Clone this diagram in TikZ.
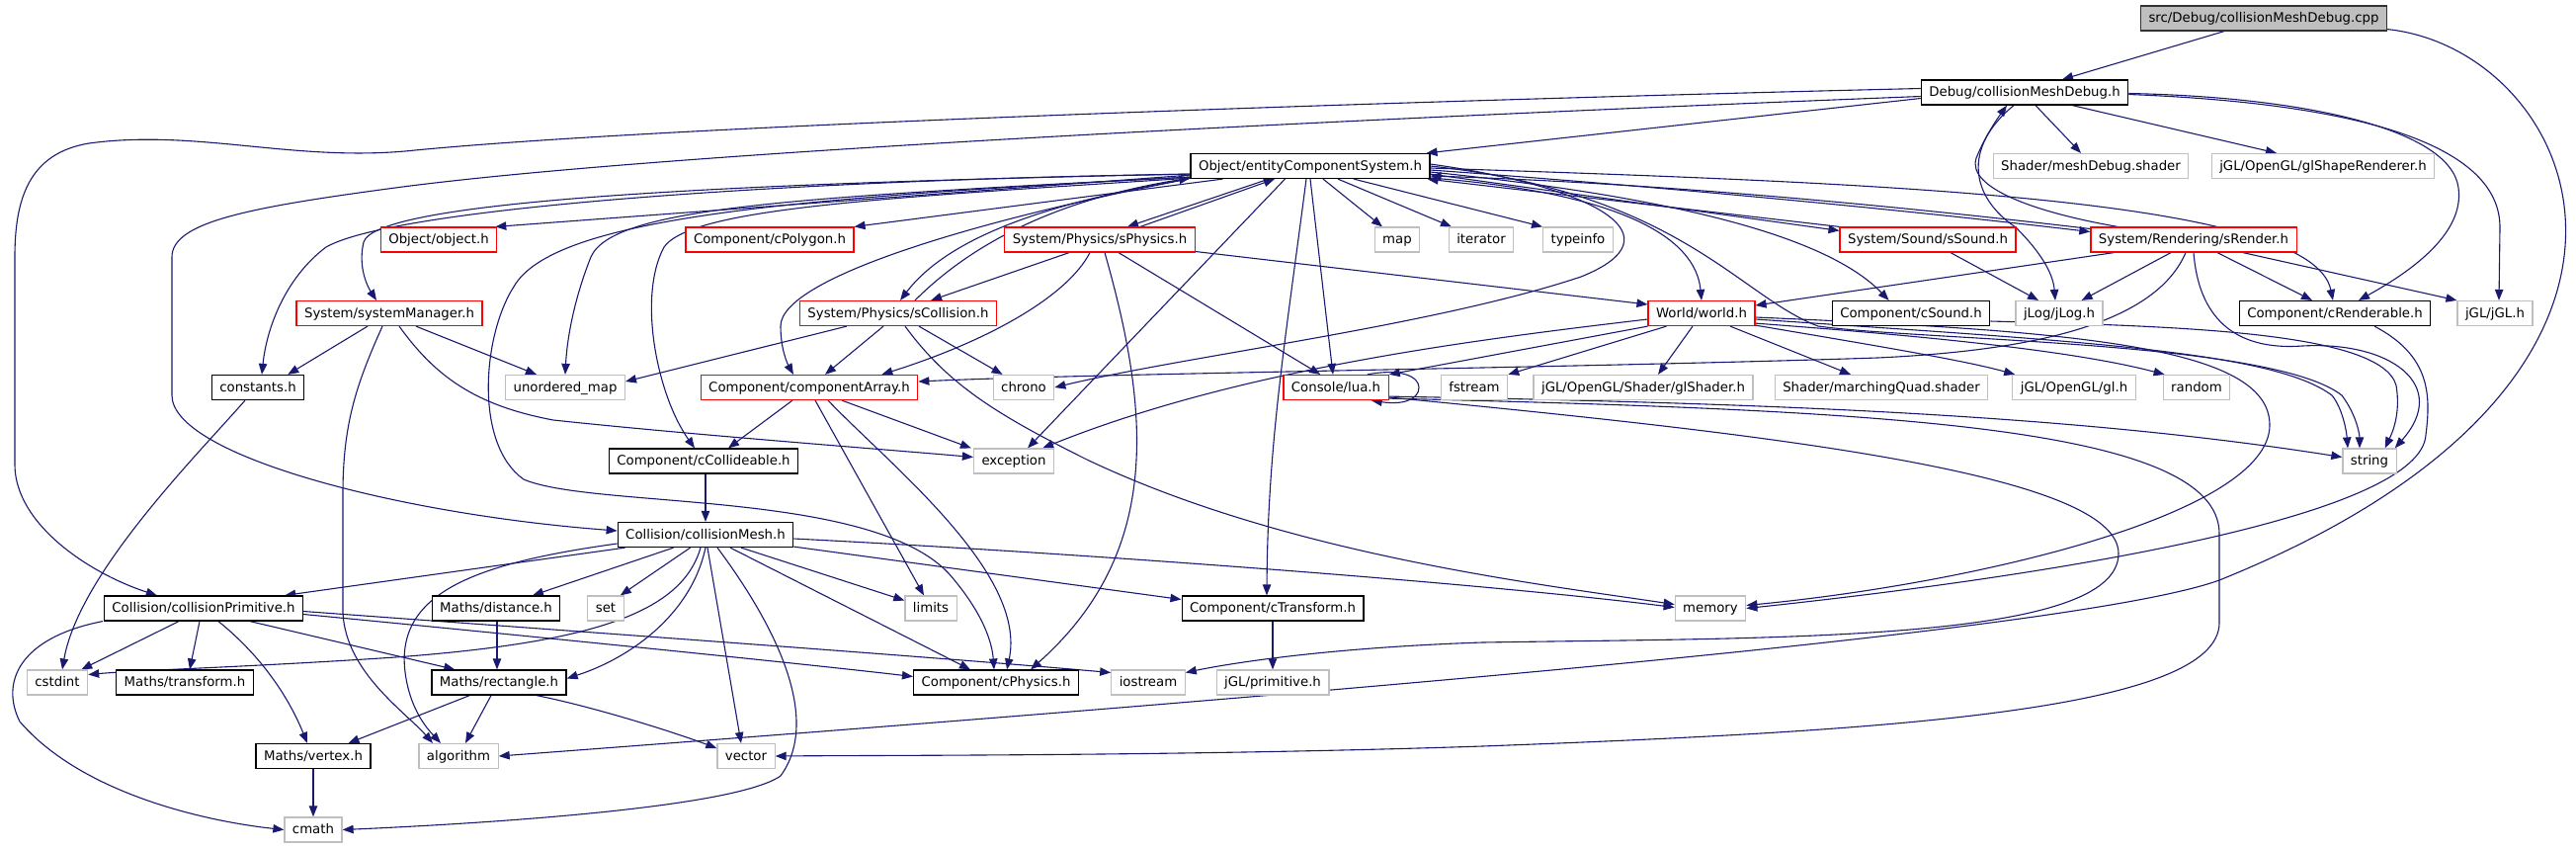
\documentclass[tikz,border=0pt]{standalone}
\usepackage{fontspec}
\setmainfont{DejaVu Sans}
\usetikzlibrary{arrows.meta, calc, backgrounds}
\definecolor{edgeblue}{HTML}{191970}
\definecolor{sysgrey}{HTML}{BFBFBF}

\begin{document}
\begin{tikzpicture}[x=0.5pt, y=-0.5pt, >={Triangle[length=5.5pt, width=4.2pt]},
  every node/.style={font=\fontsize{6.65pt}{8pt}\selectfont},
  hdr/.style={rectangle, draw, line width=0.6pt, fill=white, minimum height=12.5pt, inner xsep=4pt, inner ysep=0pt, text height=5.5pt, text depth=1.5pt},
  dochdr/.style={hdr, draw=black},
  syshdr/.style={hdr, draw=sysgrey},
  cuthdr/.style={hdr, draw=red},
  roothdr/.style={hdr, draw=black!80, fill=sysgrey},
  incl/.style={->, draw=edgeblue, line width=0.55pt}]
  \useasboundingbox (0,0) rectangle (2607,859);

  \node[roothdr] (cpp) at (2291,18.5) {src/Debug/collisionMeshDebug.cpp};
  \node[dochdr] (dbg) at (2049,93.5) {Debug/collisionMeshDebug.h};
  \node[dochdr] (ecs) at (1326,168) {Object/entityComponentSystem.h};
  \node[syshdr] (meshshader) at (2116,168) {Shader/meshDebug.shader};
  \node[syshdr] (shaperend) at (2351,168) {jGL/OpenGL/glShapeRenderer.h};
  \node[cuthdr] (object) at (444,242.5) {Object/object.h};
  \node[cuthdr] (cpolygon) at (779,242.5) {Component/cPolygon.h};
  \node[cuthdr] (sphysics) at (1113,242.5) {System/Physics/sPhysics.h};
  \node[syshdr] (map) at (1414,242.5) {map};
  \node[syshdr] (iterator) at (1499,242.5) {iterator};
  \node[syshdr] (typeinfo) at (1597,242.5) {typeinfo};
  \node[cuthdr] (ssound) at (1951,242.5) {System/Sound/sSound.h};
  \node[cuthdr] (srender) at (2220,242.5) {System/Rendering/sRender.h};
  \node[cuthdr] (sysmgr) at (394,317) {System/systemManager.h};
  \node[cuthdr] (scollision) at (909,317) {System/Physics/sCollision.h};
  \node[cuthdr] (world) at (1722,317) {World/world.h};
  \node[dochdr] (csound) at (1934,317) {Component/cSound.h};
  \node[syshdr] (jlog) at (2084,317) {jLog/jLog.h};
  \node[dochdr] (crender) at (2363,317) {Component/cRenderable.h};
  \node[syshdr] (jgl) at (2525,317) {jGL/jGL.h};
  \node[dochdr] (constants) at (261,392) {constants.h};
  \node[syshdr] (umap) at (572,392) {unordered\_map};
  \node[cuthdr] (comparray) at (819,392) {Component/componentArray.h};
  \node[syshdr] (chrono) at (1036,392) {chrono};
  \node[cuthdr] (lua) at (1352,392) {Console/lua.h};
  \node[syshdr] (fstream) at (1492,392) {fstream};
  \node[syshdr] (glshader) at (1663,392) {jGL/OpenGL/Shader/glShader.h};
  \node[syshdr] (mqshader) at (1904,392) {Shader/marchingQuad.shader};
  \node[syshdr] (gl) at (2099,392) {jGL/OpenGL/gl.h};
  \node[syshdr] (random) at (2223,392) {random};
  \node[dochdr] (ccollide) at (712,466.5) {Component/cCollideable.h};
  \node[syshdr] (exception) at (1026,466.5) {exception};
  \node[syshdr] (string) at (2398,466.5) {string};
  \node[dochdr] (cmesh) at (714,541) {Collision/collisionMesh.h};
  \node[dochdr] (cprim) at (206,615.5) {Collision/collisionPrimitive.h};
  \node[dochdr] (distance) at (502,615.5) {Maths/distance.h};
  \node[syshdr] (set) at (613,615.5) {set};
  \node[syshdr] (limits) at (942,615.5) {limits};
  \node[dochdr] (ctransform) at (1288,615.5) {Component/cTransform.h};
  \node[syshdr] (memory) at (1731,615.5) {memory};
  \node[syshdr] (cstdint) at (58,690.5) {cstdint};
  \node[dochdr] (mtransform) at (187,690.5) {Maths/transform.h};
  \node[dochdr] (rectangle) at (505,690.5) {Maths/rectangle.h};
  \node[dochdr] (cphysics) at (1008,690.5) {Component/cPhysics.h};
  \node[syshdr] (iostream) at (1162,690.5) {iostream};
  \node[syshdr] (primitive) at (1288,690.5) {jGL/primitive.h};
  \node[dochdr] (vertex) at (317,765) {Maths/vertex.h};
  \node[syshdr] (algorithm) at (464,765) {algorithm};
  \node[syshdr] (vector) at (755,765) {vector};
  \node[syshdr] (cmath) at (317,839.5) {cmath};

  \begin{scope}[on background layer]
  \draw[incl] ($(cpp.south)+(-40,0)$) -- ($(dbg.north)+(38,0)$);
  \draw[incl] ($(cpp.south east)+(0,-2)$) .. controls (2610,50) and (2760,380) .. (2246,587) .. controls (2100,640) and (1300,705) .. (algorithm.east);

  \draw[incl] ($(dbg.west)+(0,6)$) -- ($(ecs.north east)+(-4,0)$);
  \draw[incl] ($(dbg.south)+(11,0)$) -- ($(meshshader.north)+(-10,0)$);
  \draw[incl] ($(dbg.south east)+(-57,0)$) -- ($(shaperend.north)+(-47,0)$);
  \draw[incl] ($(dbg.east)+(0,1)$) .. controls (2330,98) and (2480,130) .. (2488,190) .. controls (2495,240) and (2430,280) .. ($(crender.north)+(24,0)$);
  \draw[incl] ($(dbg.east)+(0,2)$) .. controls (2400,105) and (2530,150) .. (2530,230) -- ($(jgl.north)+(4,0)$);
  \draw[incl] ($(dbg.south)+(-11,0)$) .. controls (1985,150) and (1995,200) .. (2040,230) .. controls (2070,260) and (2078,280) .. ($(jlog.north)+(-4,0)$);
  \draw[incl] ($(srender.north west)+(28,0)$) .. controls (2060,215) and (1990,190) .. (2000,160) .. controls (2010,135) and (2025,115) .. ($(dbg.south)+(-18,0)$);
  \draw[incl] ($(dbg.west)+(0,-4)$) .. controls (1500,100) and (700,125) .. (420,152) .. controls (300,165) and (200,130) .. (90,145) .. controls (30,155) and (15,200) .. (15,260) -- (15,470) .. controls (15,530) and (90,580) .. ($(cprim.north west)+(54,0)$);
  \draw[incl] ($(dbg.west)+(0,4)$) .. controls (1500,115) and (700,150) .. (400,190) .. controls (250,210) and (174,225) .. (174,260) -- (174,400) .. controls (174,460) and (400,520) .. ($(cmesh.west)+(0,-4)$);

  \draw[incl] ($(ecs.south west)+(0,-4)$) -- ($(object.north east)+(-2,0)$);
  \draw[incl] ($(ecs.south west)+(33,0)$) -- (cpolygon.north east);
  \draw[incl] ($(ecs.south)+(-42,0)$) -- ($(sphysics.north)+(28,0)$);
  \draw[incl] ($(sphysics.north)+(41,0)$) -- ($(ecs.south)+(-36,0)$);
  \draw[incl] ($(ecs.south west)+(-2,0)$) .. controls (1060,205) and (960,240) .. ($(scollision.north)+(2,0)$);
  \draw[incl] ($(scollision.north)+(17,0)$) .. controls (990,240) and (1080,200) .. ($(ecs.south west)+(0,-1)$);
  \draw[incl] ($(ecs.south)+(13,0)$) -- ($(map.north)+(-15,0)$);
  \draw[incl] ($(ecs.south)+(28,0)$) -- ($(iterator.north)+(-30,0)$);
  \draw[incl] ($(ecs.south)+(44,0)$) -- ($(typeinfo.north)+(-36,0)$);
  \draw[incl] ($(ecs.south east)+(0,-5)$) -- ($(ssound.north west)+(0,4)$);
  \draw[incl] (ssound.north west) -- ($(ecs.south east)+(-3,0)$);
  \draw[incl] ($(ecs.east)+(0,4)$) .. controls (1700,190) and (1950,215) .. ($(srender.west)+(0,-8)$);
  \draw[incl] ($(srender.west)+(0,-11)$) .. controls (1950,212) and (1700,186) .. ($(ecs.east)+(0,10)$);
  \draw[incl] ($(ecs.east)+(0,12)$) .. controls (1640,195) and (1716,240) .. (world.north);
  \draw[incl] ($(ecs.east)+(0,6)$) .. controls (1700,200) and (1850,240) .. ($(csound.north west)+(58,0)$);
  \draw[incl] ($(ecs.east)+(0,2)$) .. controls (1900,185) and (2340,200) .. ($(crender.north)+(-2,0)$);
  \draw[incl] ($(ecs.east)+(0,-2)$) .. controls (1620,190) and (1700,240) .. (1600,280) .. controls (1450,330) and (1200,360) .. (chrono.east);
  \draw[incl] (ecs.south) -- ($(lua.north)+(-3,0)$);
  \draw[incl] ($(ecs.south)+(-4,0)$) .. controls (1300,350) and (1283,450) .. ($(ctransform.north)+(-6,0)$);
  \draw[incl] ($(ecs.south west)+(96,0)$) -- ($(exception.north)+(14,0)$);
  \draw[incl] ($(ecs.south west)+(0,-2)$) .. controls (800,200) and (560,220) .. (520,290) .. controls (488,340) and (480,450) .. (530,485) .. controls (600,515) and (880,495) .. (960,580) .. controls (995,620) and (1004,650) .. ($(cphysics.north)+(-2,0)$);
  \draw[incl] ($(ecs.south west)+(0,-5)$) .. controls (800,182) and (400,210) .. (330,250) .. controls (290,280) and (270,330) .. ($(constants.north)+(4,0)$);
  \draw[incl] ($(ecs.south west)+(0,-5)$) .. controls (700,186) and (380,205) .. (368,245) .. controls (362,270) and (372,290) .. ($(sysmgr.north)+(-13,0)$);
  \draw[incl] ($(ecs.south west)+(0,-2)$) .. controls (800,200) and (620,210) .. (598,260) .. controls (582,300) and (574,340) .. (umap.north);
  \draw[incl] ($(ecs.south west)+(-2,0)$) .. controls (1000,220) and (790,280) .. (790,330) .. controls (790,355) and (798,370) .. ($(comparray.north)+(-16,0)$);
  \draw[incl] ($(ecs.south west)+(0,-1)$) .. controls (900,200) and (700,210) .. (672,250) .. controls (645,300) and (665,400) .. ($(ccollide.north)+(-9,0)$);
  \draw[incl] (ecs.east) .. controls (1700,195) and (1760,300) .. (1840,330) .. controls (1950,345) and (2300,345) .. (2370,400) .. controls (2385,420) and (2388,440) .. ($(string.north)+(-10,0)$);

  \draw[incl] ($(world.south west)+(19,0)$) -- (fstream.north east);
  \draw[incl] ($(world.south)+(-9,0)$) -- ($(glshader.north)+(15,0)$);
  \draw[incl] ($(world.south)+(29,0)$) -- ($(mqshader.north)+(-31,0)$);
  \draw[incl] ($(world.south east)+(0,-1)$) .. controls (1900,350) and (1990,365) .. ($(gl.north west)+(3,0)$);
  \draw[incl] ($(world.south east)+(0,-3)$) .. controls (1950,340) and (2100,355) .. ($(random.north west)+(2,0)$);
  \draw[incl] (world.south west) -- (lua.north east);
  \draw[incl] ($(world.west)+(0,6)$) .. controls (1480,345) and (1250,375) .. ($(exception.north east)+(-12,0)$);
  \draw[incl] ($(world.east)+(0,6)$) .. controls (2100,345) and (2300,355) .. (2360,400) .. controls (2372,415) and (2375,440) .. ($(string.north)+(-22,0)$);
  \draw[incl] ($(world.east)+(0,4)$) .. controls (2100,335) and (2297,350) .. (2297,430) .. controls (2297,520) and (2000,590) .. ($(memory.east)+(0,-3)$);

  \draw[incl] ($(crender.south)+(40,0)$) .. controls (2460,360) and (2460,400) .. (2455,440) .. controls (2450,520) and (2100,580) .. (memory.east);
  \draw[incl] ($(csound.east)+(0,8)$) .. controls (2200,330) and (2410,335) .. (2425,390) .. controls (2430,420) and (2420,440) .. ($(string.north east)+(-12,0)$);
  \draw[incl] (srender.south) .. controls (2225,320) and (2260,355) .. (2330,350) .. controls (2420,345) and (2480,390) .. ($(string.north east)+(-2,0)$);

  \draw[incl] ($(lua.north east)+(-22,0)$) .. controls (1420,372) and (1436,382) .. (1436,392) .. controls (1436,404) and (1420,410) .. ($(lua.south east)+(-18,0)$);
  \draw[incl] ($(lua.south east)+(0,-4)$) .. controls (1800,408) and (2100,420) .. ($(string.west)+(0,-4)$);
  \draw[incl] ($(lua.east)+(0,10)$) .. controls (1800,440) and (2144,480) .. (2144,560) .. controls (2144,650) and (1800,645) .. (1500,650) .. controls (1350,655) and (1250,670) .. ($(iostream.east)+(0,-10)$);
  \draw[incl] ($(lua.south east)+(0,-2)$) .. controls (1900,415) and (2246,430) .. (2246,540) -- (2246,630) .. controls (2246,720) and (1900,740) .. (1500,755) .. controls (1200,765) and (900,764) .. (vector.east);

  \draw[incl] ($(sphysics.south)+(-31,0)$) -- ($(scollision.north east)+(-67,0)$);
  \draw[incl] ($(sphysics.south)+(-10,0)$) .. controls (1080,300) and (1000,345) .. ($(comparray.north east)+(-37,0)$);
  \draw[incl] ($(sphysics.south)+(5,0)$) .. controls (1165,420) and (1175,560) .. ($(cphysics.north east)+(-49,0)$);
  \draw[incl] ($(sphysics.south)+(19,0)$) -- ($(lua.north west)+(38,0)$);
  \draw[incl] ($(sphysics.east)+(0,12)$) -- ($(world.west)+(0,-9)$);

  \draw[incl] ($(scollision.south)+(-15,0)$) -- ($(comparray.north)+(16,0)$);
  \draw[incl] ($(scollision.south)+(21,0)$) -- ($(chrono.north west)+(10,0)$);
  \draw[incl] ($(scollision.south west)+(48,0)$) -- ($(umap.east)+(0,-6)$);
  \draw[incl] ($(scollision.south)+(7,0)$) .. controls (960,390) and (1010,420) .. (1100,465) .. controls (1300,560) and (1550,590) .. ($(memory.west)+(0,-4)$);

  \draw[incl] ($(comparray.south)+(-17,0)$) -- ($(ccollide.north)+(25,0)$);
  \draw[incl] ($(comparray.south)+(33,0)$) -- ($(exception.north west)+(-2,0)$);
  \draw[incl] ($(comparray.south)+(6,0)$) -- ($(limits.north)+(-7,0)$);
  \draw[incl] ($(comparray.south)+(19,0)$) .. controls (900,470) and (1040,580) .. ($(cphysics.north)+(11,0)$);

  \draw[incl] ($(sysmgr.south)+(-22,0)$) -- ($(constants.north east)+(-17,0)$);
  \draw[incl] ($(sysmgr.south)+(27,0)$) -- ($(umap.north)+(-29,0)$);
  \draw[incl] ($(sysmgr.south)+(-7,0)$) .. controls (360,390) and (347,430) .. (347,500) -- (347,620) .. controls (350,680) and (410,720) .. ($(algorithm.north)+(-26,0)$);
  \draw[incl] ($(sysmgr.south)+(10,0)$) .. controls (440,380) and (480,410) .. (560,425) .. controls (700,440) and (900,455) .. ($(exception.west)+(0,-4)$);

  \draw[incl] ($(constants.south)+(-13,0)$) .. controls (200,460) and (80,580) .. ($(cstdint.north)+(5,0)$);
  \draw[incl] ($(ccollide.south)+(2,0)$) -- (cmesh.north);

  \draw[incl] ($(cmesh.south west)+(8,0)$) -- ($(cprim.north east)+(-19,0)$);
  \draw[incl] ($(cmesh.south west)+(57,0)$) -- ($(distance.north)+(37,0)$);
  \draw[incl] ($(cmesh.south west)+(74,0)$) -- ($(set.north east)+(-4,0)$);
  \draw[incl] ($(cmesh.south)+(-5,0)$) .. controls (690,620) and (600,650) .. (400,665) .. controls (250,675) and (140,678) .. ($(cstdint.east)+(0,-8)$);
  \draw[incl] (cmesh.south) .. controls (700,620) and (640,665) .. ($(rectangle.east)+(0,-4)$);
  \draw[incl] ($(cmesh.west)+(0,9)$) .. controls (480,570) and (400,600) .. (410,680) .. controls (415,720) and (435,740) .. ($(algorithm.north)+(-18,0)$);
  \draw[incl] ($(cmesh.south)+(25,0)$) -- ($(cphysics.north west)+(58,0)$);
  \draw[incl] ($(cmesh.south)+(36,0)$) -- ($(limits.west)+(0,-8)$);
  \draw[incl] ($(cmesh.south)+(2,0)$) -- ($(vector.north)+(-5,0)$);
  \draw[incl] ($(cmesh.south)+(12,0)$) .. controls (790,640) and (830,730) .. (790,785) .. controls (740,820) and (450,835) .. (cmath.east);
  \draw[incl] ($(cmesh.south east)+(0,-1)$) -- ($(ctransform.west)+(0,-9)$);
  \draw[incl] ($(cmesh.east)+(0,4)$) .. controls (1100,560) and (1500,590) .. ($(memory.west)+(0,-1)$);

  \draw[incl] ($(cprim.south)+(-25,0)$) -- ($(cstdint.north east)+(-7,0)$);
  \draw[incl] ($(cprim.south)+(-4,0)$) -- ($(mtransform.north)+(5,0)$);
  \draw[incl] ($(cprim.south)+(15,0)$) .. controls (260,660) and (290,700) .. ($(vertex.north)+(-6,0)$);
  \draw[incl] ($(cprim.south)+(47,0)$) -- ($(rectangle.north west)+(24,0)$);
  \draw[incl] ($(cprim.east)+(0,6)$) .. controls (500,640) and (800,670) .. ($(cphysics.west)+(0,-6)$);
  \draw[incl] ($(cprim.east)+(0,3)$) .. controls (600,640) and (950,665) .. ($(iostream.west)+(0,-10)$);
  \draw[incl] ($(cprim.south west)+(-1,0)$) .. controls (20,645) and (0,690) .. (20,730) .. controls (80,800) and (200,830) .. (cmath.west);

  \draw[incl] ($(distance.south)+(1,0)$) -- ($(rectangle.north)+(-2,0)$);
  \draw[incl] ($(rectangle.south west)+(39,0)$) -- ($(vertex.north east)+(-23,0)$);
  \draw[incl] ($(rectangle.south)+(-8,0)$) -- ($(algorithm.north)+(7,0)$);
  \draw[incl] ($(rectangle.south)+(38,0)$) .. controls (600,715) and (680,740) .. ($(vector.west)+(0,-8)$);
  \draw[incl] (vertex.south) -- (cmath.north);
  \draw[incl] (ctransform.south) -- (primitive.north);

  \draw[incl] ($(srender.south)+(-23,0)$) -- ($(jlog.north east)+(-22,0)$);
  \draw[incl] ($(srender.south)+(24,0)$) -- ($(crender.north)+(-23,0)$);
  \draw[incl] ($(srender.south)+(50,0)$) -- (jgl.north west);
  \draw[incl] ($(srender.south west)+(24,0)$) -- ($(world.east)+(0,-8)$);
  \draw[incl] ($(srender.south)+(-8,0)$) .. controls (2180,330) and (2050,355) .. (1900,362) .. controls (1600,372) and (1100,378) .. ($(comparray.east)+(0,-6)$);
  \draw[incl] ($(ssound.south)+(23,0)$) -- ($(jlog.north)+(-21,0)$);
  \end{scope}
\end{tikzpicture}
\end{document}
